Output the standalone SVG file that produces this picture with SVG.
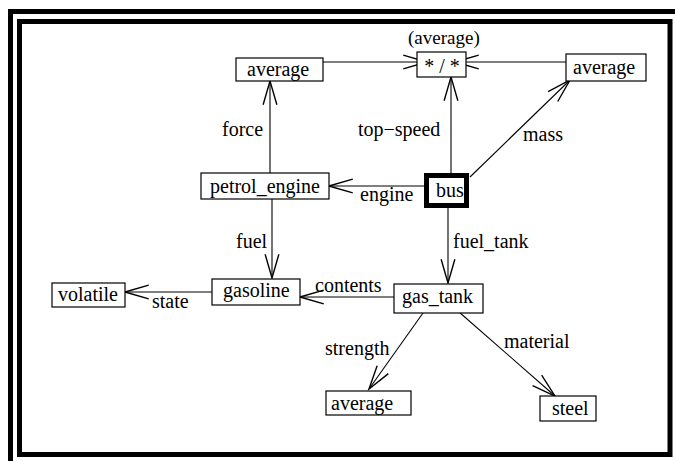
<svg xmlns="http://www.w3.org/2000/svg" width="675" height="461" viewBox="0 0 675 461">
<defs>
<style>
text{font-family:"Liberation Serif","Times New Roman",serif;font-size:20px;fill:#000}
.box{fill:#fff;stroke:#000;stroke-width:1.2}
.edge{stroke:#000;stroke-width:1.1;fill:none;marker-end:url(#arr)}
.frame{fill:none;stroke:#000;stroke-width:5}
</style>
<marker id="arr" markerUnits="userSpaceOnUse" markerWidth="30" markerHeight="20" viewBox="-22 -8 24 16" refX="0" refY="0" orient="auto">
<path d="M-19,-5.5 L0,0 L-19,5.5" fill="none" stroke="#000" stroke-width="1.1"/>
</marker>
</defs>
<rect x="0" y="0" width="675" height="461" fill="#fff"/>
<g id="frame">
<rect class="frame" x="10.5" y="11.5" width="700" height="500"/>
<rect class="frame" x="19.5" y="21.5" width="650.5" height="433"/>
</g>
<g id="connectors">
<line class="edge" x1="323" y1="62" x2="427" y2="62"/>
<line class="edge" x1="566" y1="62" x2="455" y2="62"/>
<line class="edge" x1="451" y1="175" x2="451" y2="77"/>
<line class="edge" x1="470" y1="177" x2="570" y2="80"/>
<line class="edge" x1="426" y1="186" x2="329" y2="186"/>
<line class="edge" x1="270" y1="173" x2="270" y2="81"/>
<line class="edge" x1="272" y1="199" x2="272" y2="278"/>
<line class="edge" x1="448" y1="205" x2="448" y2="283"/>
<line class="edge" x1="394" y1="297" x2="300" y2="297"/>
<line class="edge" x1="212" y1="292" x2="125" y2="292"/>
<line class="edge" x1="423" y1="313" x2="369" y2="389"/>
<line class="edge" x1="459" y1="312" x2="555" y2="396"/>
<text x="358" y="136">top−speed</text>
<text x="523" y="141">mass</text>
<text x="360" y="201">engine</text>
<text x="222" y="136">force</text>
<text x="236" y="248">fuel</text>
<text x="453" y="248">fuel_tank</text>
<text x="315" y="292">contents</text>
<text x="152" y="308">state</text>
<text x="325" y="355">strength</text>
<text x="504" y="348">material</text>
</g>
<g id="avg_force">
<rect class="box" x="236" y="58" width="87" height="23"/>
<text x="247" y="76">average</text>
</g>
<g id="ratio">
<text x="408" y="44" style="font-size:19px">(average)</text>
<rect class="box" x="417" y="52" width="49" height="25"/>
<text x="442" y="73" text-anchor="middle">* / *</text>
</g>
<g id="avg_mass">
<rect class="box" x="566" y="54" width="80" height="27"/>
<text x="573" y="74">average</text>
</g>
<g id="petrol_engine">
<rect class="box" x="201" y="173" width="128" height="26"/>
<text x="210" y="193">petrol_engine</text>
</g>
<g id="bus">
<rect x="426.5" y="175.5" width="40" height="30" fill="#fff" stroke="#000" stroke-width="5"/>
<text x="436" y="197">bus</text>
</g>
<g id="gasoline">
<rect class="box" x="212" y="279" width="88" height="26"/>
<text x="223" y="297">gasoline</text>
</g>
<g id="volatile">
<rect class="box" x="52" y="283" width="73" height="24"/>
<text x="58" y="301">volatile</text>
</g>
<g id="gas_tank">
<rect class="box" x="394" y="284" width="89" height="29"/>
<text x="402" y="303">gas_tank</text>
</g>
<g id="avg_strength">
<rect class="box" x="326" y="391" width="85" height="24"/>
<text x="331" y="410">average</text>
</g>
<g id="steel">
<rect class="box" x="540" y="396" width="56" height="25"/>
<text x="552" y="415">steel</text>
</g>
</svg>
